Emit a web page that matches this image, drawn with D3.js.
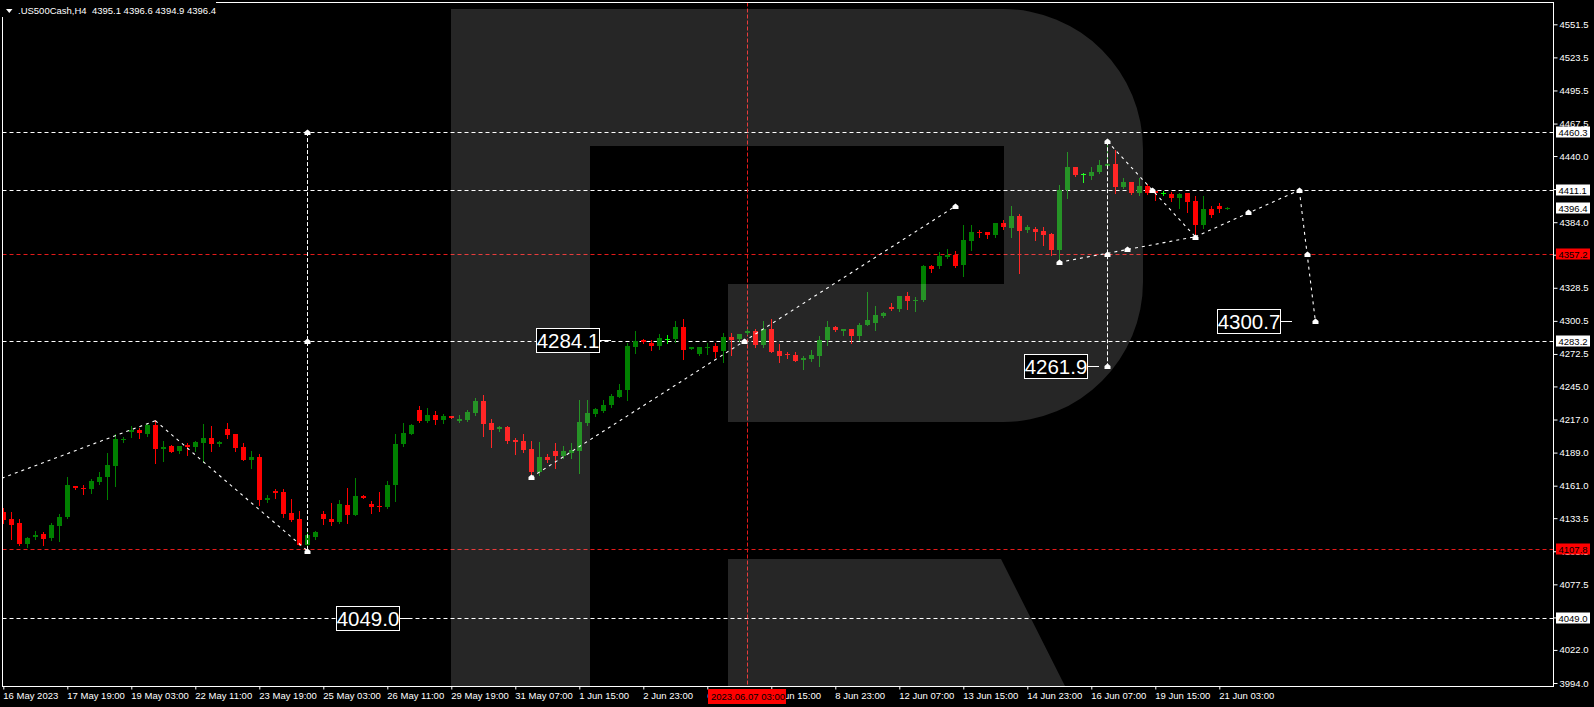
<!DOCTYPE html>
<html><head><meta charset="utf-8">
<script src="https://cdn.jsdelivr.net/npm/d3@7"></script>
<style>
html,body{margin:0;padding:0;background:#000;overflow:hidden;}
svg{display:block;}
text{font-family:"Liberation Sans",Arial,sans-serif;}
</style></head>
<body>
<svg id="c" width="1594" height="707"></svg>
<script>
// ---------- DATA ----------
const opens = [4139.0,4132.8,4129.4,4111.6,4117.8,4120.4,4116.7,4127.1,4134.8,4160.7,4159.3,4158.5,4164.1,4168.4,4177.7,4199.7,4206.7,4208.1,4204.8,4212.4,
4192.3,4194.6,4190.6,4195.4,4194.0,4197.4,4201.4,4196.5,4209.0,4204.7,4193.8,4183.0,4185.3,4149.1,4156.5,4155.7,4137.9,4132.8,4111.0,4117.8,
4137.0,4132.8,4130.3,4144.7,4136.2,4152.3,4145.5,4143.8,4143.0,4161.6,4196.3,4204.8,4225.1,4215.7,4220.8,4216.6,4220.0,4215.7,4216.6,4222.5,
4232.7,4214.1,4209.0,4210.7,4199.7,4198.8,4192.1,4172.6,4185.3,4190.4,4186.1,4188.7,4190.4,4214.1,4221.7,4224.2,4229.3,4236.1,4242.0,4278.4,
4284.3,4281.8,4279.2,4284.9,4285.2,4295.3,4276.7,4272.5,4277.5,4279.2,4275.0,4286.8,4285.2,4290.2,4291.9,4280.1,4293.6,4275.0,4272.5,4271.6,
4267.4,4268.2,4270.8,4284.3,4295.3,4291.9,4293.6,4287.7,4297.0,4298.7,4304.6,4312.5,4310.3,4321.5,4317.6,4318.2,4347.2,4346.9,4354.8,4356.3,
4347.8,4368.1,4375.7,4375.7,4373.2,4383.3,4379.1,4389.3,4377.4,4378.3,4376.6,4374.0,4360.5,4411.3,4430.7,4424.6,4423.1,4426.5,4431.6,4433.3,
4413.8,4418.0,4408.7,4414.7,4410.4,4408.5,4407.9,4404.5,4408.7,4401.9,4381.6,4395.2,4397.7,4395.1];
const highs = [4142.1,4138.7,4132.8,4117.8,4122.7,4121.8,4129.2,4136.8,4168.4,4161.0,4161.6,4166.4,4172.6,4188.7,4204.7,4202.5,4211.5,4209.6,4214.3,4216.6,
4198.8,4195.4,4194.8,4196.9,4199.1,4213.2,4211.5,4199.1,4214.3,4205.0,4197.1,4190.4,4187.8,4153.1,4158.2,4158.2,4149.7,4139.6,4122.7,4122.9,
4139.6,4146.4,4148.9,4159.0,4167.5,4153.1,4148.1,4155.7,4165.0,4204.7,4214.1,4213.2,4228.5,4226.8,4224.2,4221.7,4220.3,4220.8,4225.1,4235.2,
4237.8,4217.4,4211.5,4211.5,4201.4,4204.7,4198.8,4198.0,4187.8,4197.1,4194.6,4197.1,4233.5,4233.5,4226.8,4233.5,4238.6,4247.1,4282.0,4291.9,
4285.2,4284.3,4289.4,4288.5,4300.4,4302.1,4278.6,4278.6,4281.8,4281.8,4290.2,4290.2,4289.6,4293.6,4293.6,4300.4,4302.1,4280.9,4274.2,4274.2,
4270.8,4275.9,4287.7,4300.4,4296.2,4293.8,4293.8,4298.7,4324.9,4313.1,4307.6,4315.4,4321.7,4324.9,4320.7,4348.0,4347.4,4358.8,4361.3,4359.6,
4381.7,4381.7,4377.4,4375.9,4383.5,4385.9,4397.7,4390.9,4381.7,4379.9,4379.9,4374.9,4415.5,4443.4,4430.9,4425.7,4430.7,4436.7,4450.0,4445.1,
4421.4,4418.2,4421.4,4416.4,4410.6,4410.4,4409.6,4408.7,4408.9,4406.2,4406.2,4397.7,4400.3,4396.6];
const lows = [4129.7,4116.1,4111.0,4109.4,4116.1,4111.0,4115.3,4114.2,4133.4,4158.2,4154.2,4155.1,4162.7,4150.0,4160.7,4198.0,4202.5,4201.6,4203.3,4180.5,
4181.9,4189.5,4188.9,4187.0,4190.1,4181.3,4190.6,4194.9,4201.6,4190.6,4182.7,4176.2,4144.4,4147.5,4150.8,4134.7,4131.4,4110.5,4109.9,4115.6,
4128.6,4127.4,4129.4,4129.4,4136.0,4150.4,4137.9,4139.6,4142.1,4148.0,4194.6,4204.6,4214.9,4214.9,4213.2,4214.1,4218.0,4214.9,4215.7,4220.8,
4203.1,4193.8,4207.3,4197.1,4187.8,4189.5,4170.0,4170.0,4181.0,4175.9,4184.4,4184.4,4171.7,4212.4,4220.0,4223.4,4227.6,4235.9,4233.5,4273.3,
4281.8,4275.9,4276.7,4281.8,4282.6,4268.2,4276.5,4271.6,4272.5,4269.9,4265.7,4271.6,4283.5,4289.4,4278.4,4278.4,4274.0,4265.7,4269.1,4266.3,
4259.8,4266.5,4262.3,4280.1,4291.9,4288.5,4281.8,4284.3,4296.8,4292.8,4303.8,4310.0,4309.1,4310.8,4309.1,4317.3,4342.1,4345.5,4353.9,4346.4,
4338.7,4360.5,4371.7,4370.9,4371.7,4378.5,4371.7,4341.3,4375.7,4368.9,4365.0,4356.3,4351.4,4404.5,4423.1,4418.0,4420.6,4425.7,4431.0,4408.7,
4412.9,4407.9,4407.0,4407.9,4402.8,4407.0,4401.9,4396.0,4392.9,4373.2,4379.1,4388.4,4392.6,4394.9];
const closes = [4132.0,4127.7,4111.6,4116.7,4119.5,4115.9,4127.7,4134.8,4161.6,4159.3,4158.2,4165.0,4168.4,4178.5,4200.5,4200.8,4208.1,4205.6,4212.4,4192.1,
4193.5,4189.8,4194.6,4194.0,4198.0,4201.4,4196.5,4198.2,4204.2,4193.2,4183.0,4185.3,4149.1,4150.8,4154.8,4137.3,4132.2,4111.0,4119.3,4121.8,
4132.8,4130.3,4145.5,4136.2,4152.3,4150.6,4143.0,4143.2,4161.6,4196.3,4205.6,4212.4,4215.7,4220.8,4216.6,4220.0,4218.3,4217.4,4223.4,4232.7,
4213.2,4208.1,4210.7,4198.8,4198.0,4191.2,4172.6,4185.3,4182.7,4186.1,4190.4,4191.2,4214.9,4222.5,4225.9,4229.3,4236.9,4242.0,4279.2,4283.5,
4282.6,4279.2,4286.0,4284.9,4295.3,4275.9,4278.4,4278.4,4278.4,4274.2,4286.8,4284.3,4289.4,4291.9,4280.1,4293.6,4274.2,4270.8,4271.6,4266.5,
4269.1,4271.6,4284.3,4295.3,4292.8,4293.6,4287.7,4297.0,4301.5,4305.5,4307.4,4310.3,4321.5,4317.3,4318.2,4347.2,4344.4,4355.4,4356.3,4346.9,
4368.9,4375.7,4374.9,4373.2,4383.3,4379.7,4389.3,4376.8,4379.9,4376.0,4373.2,4360.5,4411.3,4430.7,4424.0,4424.6,4426.5,4432.4,4433.3,4413.8,
4418.0,4408.7,4414.7,4408.7,4408.7,4408.5,4404.5,4407.9,4401.4,4381.6,4395.2,4390.1,4395.2,4396.4];

const xTickIndex  = [0,8,16,24,32,40,48,56,64,72,80,88,96,104,112,120,128,136,144,152];
const xTickLabels = ["16 May 2023","17 May 19:00","19 May 03:00","22 May 11:00","23 May 19:00","25 May 03:00",
  "26 May 11:00","29 May 19:00","31 May 07:00","1 Jun 15:00","2 Jun 23:00","6 Jun 07:00","7 Jun 15:00",
  "8 Jun 23:00","12 Jun 07:00","13 Jun 15:00","14 Jun 23:00","16 Jun 07:00","19 Jun 15:00","21 Jun 03:00"];
const yTicks = [4551.5,4523.5,4495.5,4467.5,4440.0,4412.0,4384.0,4356.5,4328.5,4300.5,4272.5,4245.0,4217.0,
  4189.0,4161.0,4133.5,4105.5,4077.5,4049.5,4022.0,3994.0];

const whiteLevels = [4460.3, 4411.1, 4283.2, 4049.0];
const redLevels = [4357.2, 4107.8];
const currentPrice = 4396.4;
const crosshairIndex = 93;
const crosshairLabel = "2023.06.07 03:00";
const title = ".US500Cash,H4  4395.1 4396.6 4394.9 4396.4";

// analysis drawings: [barIndex, price]
const waveLines = [
  [[-0.2,4167.3],[19,4216.0]],
  [[19,4216.0],[38,4106.0]],
  [[66,4168.1],[119,4397.5]],
  [[138,4452.5],[149,4371.7]],
  [[132,4350.1],[149,4371.7]],
  [[149,4371.7],[162,4411.1]],
  [[162,4411.1],[164,4300.7]]
];
const verticalLines = [
  [[38,4460.3],[38,4106.0]],
  [[138,4452.5],[138,4261.9]]
];
const markerPoints = [[38,4460.3],[38,4283.2],[38,4106.0],[66,4168.1],[92.6,4283.2],[119,4397.5],
  [138,4452.5],[143.6,4411.1],[149,4371.7],[138,4261.9],[138,4357.2],[132,4350.1],[140.5,4361.3],
  [155.6,4392.4],[162,4411.1],[163,4357.2],[164,4300.7]];
const targetLabels = [
  {text:"4284.1", idx:76, price:4284.1},
  {text:"4261.9", idx:137, price:4261.9},
  {text:"4300.7", idx:161.1, price:4300.7},
  {text:"4049.0", idx:51, price:4049.0}
];

// ---------- DRAW ----------
const W = 1594, H = 707;
const plot = {l:2.5, t:2.5, r:1553.5, b:686.5};
const svg = d3.select("#c");
svg.append("rect").attr("width",W).attr("height",H).attr("fill","#000");

const xs = d3.scaleLinear().domain([0,153]).range([3.3,1227.3]);
const ys = d3.scaleLinear().domain([3994,4551.5]).range([683,24.3]);

svg.append("defs").append("clipPath").attr("id","pc")
  .append("rect").attr("x",plot.l).attr("y",plot.t).attr("width",plot.r-plot.l).attr("height",plot.b-plot.t);

const g = svg.append("g").attr("clip-path","url(#pc)");

// horizontal levels
g.selectAll("line.wl").data(whiteLevels).enter().append("line")
  .attr("x1",plot.l).attr("x2",plot.r)
  .attr("y1",d=>Math.round(ys(d))+0.5).attr("y2",d=>Math.round(ys(d))+0.5)
  .attr("stroke","#fff").attr("stroke-width",1).attr("stroke-dasharray","4,3");
g.selectAll("line.rl").data(redLevels).enter().append("line")
  .attr("x1",plot.l).attr("x2",plot.r)
  .attr("y1",d=>Math.round(ys(d))+0.5).attr("y2",d=>Math.round(ys(d))+0.5)
  .attr("stroke","#e41a1a").attr("stroke-width",1).attr("stroke-dasharray","4,3");

// crosshair vertical
g.append("line")
  .attr("x1",Math.round(xs(crosshairIndex))+0.5).attr("x2",Math.round(xs(crosshairIndex))+0.5)
  .attr("y1",plot.t).attr("y2",plot.b)
  .attr("stroke","#e41a1a").attr("stroke-dasharray","4,2");

// candles
const bars = d3.range(opens.length).map(i=>({i,o:opens[i],h:highs[i],l:lows[i],c:closes[i]}));
const col = d=> d.c>d.o ? "#008000" : (d.c<d.o ? "#ff0000" : "#00ff00");
const cg = g.append("g");
cg.selectAll("line.wick").data(bars).enter().append("line")
  .attr("x1",d=>Math.round(xs(d.i))+0.5).attr("x2",d=>Math.round(xs(d.i))+0.5)
  .attr("y1",d=>Math.round(ys(d.h))).attr("y2",d=>Math.round(ys(d.l))+1)
  .attr("stroke",col).attr("stroke-width",1);
cg.selectAll("rect.body").data(bars).enter().append("rect")
  .attr("x",d=>Math.round(xs(d.i))-2)
  .attr("width",5)
  .attr("y",d=>Math.round(ys(Math.max(d.o,d.c))))
  .attr("height",d=>Math.max(1,Math.round(ys(Math.min(d.o,d.c)))-Math.round(ys(Math.max(d.o,d.c)))))
  .attr("fill",col);

// watermark "R"
g.append("path")
  .attr("d","M451,9 H1003 A140,140 0 0 1 1143,149 V282 A140,140 0 0 1 1003,422 H728 V284 H1004 V146 H590 V700 H451 Z M728,559 H1001 L1072,700 H728 Z")
  .attr("fill","#fff").attr("fill-opacity",0.15);

// analysis lines
const lineGen = d3.line().x(d=>xs(d[0])).y(d=>ys(d[1]));
g.selectAll("path.wave").data(waveLines).enter().append("path")
  .attr("d",lineGen).attr("fill","none").attr("stroke","#fff").attr("stroke-width",1.1).attr("stroke-dasharray","3,4");
g.selectAll("line.vert").data(verticalLines).enter().append("line")
  .attr("x1",d=>Math.round(xs(d[0][0]))+0.5).attr("x2",d=>Math.round(xs(d[1][0]))+0.5)
  .attr("y1",d=>ys(d[0][1])).attr("y2",d=>ys(d[1][1]))
  .attr("stroke","#fff").attr("stroke-dasharray","4,2");
g.selectAll("path.mk").data(markerPoints).enter().append("path")
  .attr("transform",d=>`translate(${Math.round(xs(d[0]))+0.5},${Math.round(ys(d[1]))+0.5})`)
  .attr("d","M-3,2.5 V-0.5 L0,-3 L3,-0.5 V2.5 Z").attr("fill","#fff");

// target labels
const tl = g.selectAll("g.tl").data(targetLabels).enter().append("g")
  .attr("transform",d=>`translate(${Math.round(xs(d.idx))},${Math.round(ys(d.price))+0.5})`);
tl.append("line").attr("x1",-11).attr("x2",0).attr("y1",0).attr("y2",0).attr("stroke","#fff");
tl.append("rect").attr("x",-74.5).attr("y",-12).attr("width",63).attr("height",24)
  .attr("fill","#000").attr("stroke","#fff").attr("stroke-width",1);
tl.append("text").attr("x",-43).attr("y",7.5).attr("text-anchor","middle")
  .attr("fill","#fff").attr("font-size","20.5px").text(d=>d.text);

// frame
svg.append("rect").attr("x",plot.l).attr("y",plot.t).attr("width",plot.r-plot.l).attr("height",plot.b-plot.t)
  .attr("fill","none").attr("stroke","#fff").attr("stroke-width",1);

// y axis
const yAxis = d3.axisRight(ys).tickValues(yTicks).tickSize(4).tickPadding(2).tickFormat(d3.format(".1f"));
const ya = svg.append("g").attr("transform",`translate(${plot.r},0)`).call(yAxis);
ya.select(".domain").remove();
ya.selectAll("line").attr("stroke","#fff");
ya.selectAll("text").attr("fill","#fff").attr("font-size","9.5px")
  .attr("font-family","Liberation Sans, Arial, sans-serif");

// y box labels
const boxes = whiteLevels.map(v=>({v,fill:"#fff"}))
  .concat(redLevels.map(v=>({v,fill:"#ff0000"})))
  .concat([{v:currentPrice,fill:"#fff"}]);
const bg = svg.selectAll("g.yb").data(boxes).enter().append("g")
  .attr("transform",d=>`translate(1556,${Math.round(ys(d.v))})`);
bg.append("rect").attr("x",0).attr("y",-5.5).attr("width",34).attr("height",11).attr("fill",d=>d.fill);
bg.append("text").attr("x",2.5).attr("y",3.6).attr("fill","#000").attr("font-size","9.5px").text(d=>d.v.toFixed(1));

// x axis
const xAxis = d3.axisBottom(xs).tickValues(xTickIndex).tickSize(3).tickPadding(3)
  .tickFormat((d,i)=>xTickLabels[i]);
const xa = svg.append("g").attr("transform",`translate(0,${plot.b})`).call(xAxis);
xa.select(".domain").remove();
xa.selectAll("line").attr("stroke","#fff");
xa.selectAll("text").attr("fill","#fff").attr("font-size","9.5px").attr("text-anchor","start")
  .attr("font-family","Liberation Sans, Arial, sans-serif").attr("dx","-0.5");

// crosshair x label
const cx = Math.round(xs(crosshairIndex));
svg.append("rect").attr("x",cx-39).attr("y",689).attr("width",78).attr("height",15).attr("fill","#ff0000");
svg.append("text").attr("x",cx-36).attr("y",700).attr("fill","#000").attr("font-size","9.5px").text(crosshairLabel);

// title
svg.append("rect").attr("x",0).attr("y",0).attr("width",216).attr("height",17).attr("fill","#000");
svg.append("path").attr("d","M6,9 H12.5 L9.25,13 Z").attr("fill","#fff");
svg.append("text").attr("x",18).attr("y",13.5).attr("fill","#fff").attr("font-size","9.5px").attr("xml:space","preserve").text(title);
</script>
</body></html>
